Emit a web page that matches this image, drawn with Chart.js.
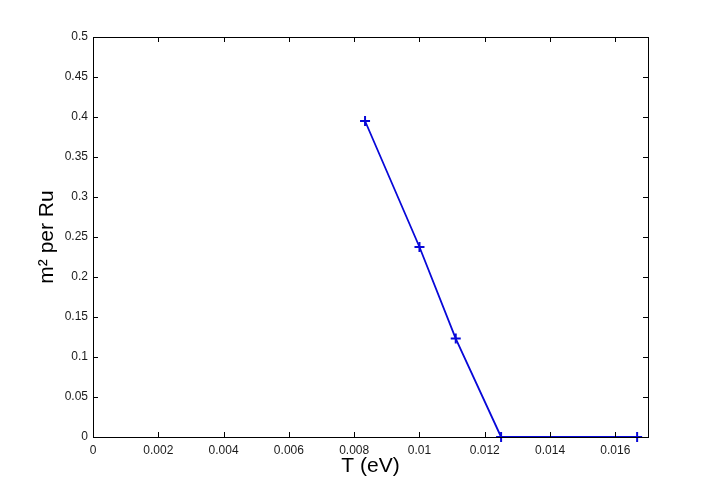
<!DOCTYPE html>
<html>
<head>
<meta charset="UTF-8">
<title>m2 per Ru vs T</title>
<script src="https://cdn.jsdelivr.net/npm/chart.js"></script>
<style>
  html, body { margin: 0; padding: 0; background: #fff; }
  #wrap { width: 716px; height: 492px; }
</style>
</head>
<body>
<div id="wrap"><canvas id="c"></canvas></div>
<script>
// data
const tempEV = [0.008333, 0.01, 0.011111, 0.0125, 0.016667];
const m2PerRu = [0.395, 0.2375, 0.123, 0, 0];
const xTicks = [0, 0.002, 0.004, 0.006, 0.008, 0.01, 0.012, 0.014, 0.016];
const yTicks = [0, 0.05, 0.1, 0.15, 0.2, 0.25, 0.3, 0.35, 0.4, 0.45, 0.5];

const fmt = v => String(+v.toFixed(4));
const tickFont = { family: 'Liberation Sans, Arial, sans-serif', size: 12 };
const titleFont = { family: 'Liberation Sans, Arial, sans-serif', size: 21 };

// matlab-style box with inward ticks on all sides
const boxTicks = {
  id: 'boxTicks',
  afterDraw(chart) {
    const { ctx, chartArea: a, scales: { x, y } } = chart;
    const len = 5;
    ctx.save();
    ctx.strokeStyle = '#000';
    ctx.lineWidth = 1;
    ctx.beginPath();
    xTicks.forEach(v => {
      const px = Math.round(x.getPixelForValue(v)) + 0.5;
      ctx.moveTo(px, a.bottom); ctx.lineTo(px, a.bottom - len);
      ctx.moveTo(px, a.top); ctx.lineTo(px, a.top + len);
    });
    yTicks.forEach(v => {
      const py = Math.round(y.getPixelForValue(v)) + 0.5;
      ctx.moveTo(a.left, py); ctx.lineTo(a.left + len, py);
      ctx.moveTo(a.right, py); ctx.lineTo(a.right - len, py);
    });
    ctx.stroke();
    ctx.strokeRect(Math.round(a.left) + 0.5, Math.round(a.top) + 0.5,
      Math.round(a.right - a.left), Math.round(a.bottom - a.top));
    ctx.restore();
  }
};

new Chart(document.getElementById('c'), {
  type: 'scatter',
  data: {
    datasets: [{
      data: tempEV.map((t, i) => ({ x: t, y: m2PerRu[i] })),
      showLine: true,
      borderColor: '#0808d8',
      backgroundColor: '#0808d8',
      borderWidth: 1.8,
      pointStyle: 'cross',
      pointRadius: 5,
      pointBorderWidth: 2,
      pointHoverRadius: 5,
      clip: false
    }]
  },
  options: {
    responsive: true,
    maintainAspectRatio: false,
    animation: false,
    layout: { padding: { left: 35, top: 37, right: 68, bottom: 13 } },
    plugins: { legend: { display: false }, tooltip: { enabled: false } },
    scales: {
      x: {
        type: 'linear',
        min: 0, max: 0.017,
        afterBuildTicks: s => { s.ticks = xTicks.map(v => ({ value: v })); },
        afterFit: s => { s.height = 42; },
        grid: { display: false, drawTicks: false },
        border: { display: false },
        ticks: { callback: fmt, color: '#1a1a1a', padding: 6, maxRotation: 0, font: tickFont },
        title: {
          display: true,
          text: 'T (eV)',
          color: '#000',
          padding: { top: 0, bottom: 0 },
          font: titleFont
        }
      },
      y: {
        type: 'linear',
        min: 0, max: 0.5,
        afterBuildTicks: s => { s.ticks = yTicks.map(v => ({ value: v })); },
        afterFit: s => { s.width = 58; },
        grid: { display: false, drawTicks: false },
        border: { display: false },
        ticks: { callback: fmt, color: '#1a1a1a', padding: 5, font: tickFont },
        title: {
          display: true,
          text: 'm² per Ru',
          color: '#000',
          padding: { top: 0, bottom: 0 },
          font: titleFont
        }
      }
    }
  },
  plugins: [boxTicks]
});
</script>
</body>
</html>
